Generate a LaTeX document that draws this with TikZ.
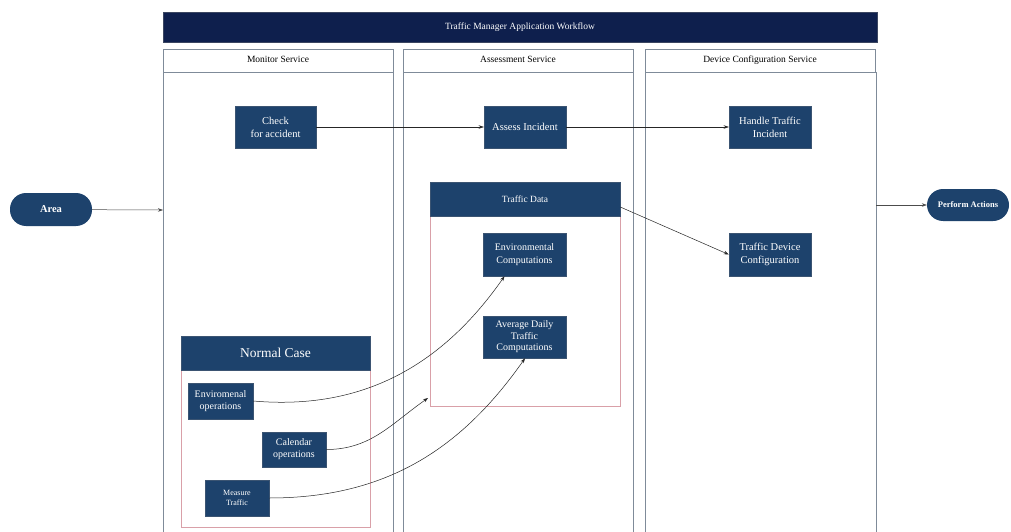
\documentclass[tikz,border=0pt]{standalone}
\usepackage{fontspec}
\setmainfont{Liberation Serif}
\usetikzlibrary{arrows.meta}
\definecolor{titlenavy}{HTML}{0E1F4D}
\definecolor{boxnavy}{HTML}{1D426C}
\definecolor{laneline}{HTML}{7F8B99}
\definecolor{pinkline}{HTML}{D9A0A8}
\tikzset{
  box/.style={rectangle, fill=boxnavy, draw=boxnavy!70!gray, line width=0.5pt,
    text=white, align=center, inner sep=1pt, font=\fontsize{10.5}{13}\selectfont},
  pill/.style={rectangle, rounded corners=16pt, fill=boxnavy, text=white,
    align=center, inner sep=1pt, font=\bfseries\fontsize{8.5}{10}\selectfont},
  lanehead/.style={rectangle, fill=white, draw=laneline, line width=0.8pt,
    minimum width=230pt, minimum height=23pt, text height=7pt, text depth=2pt,
    font=\fontsize{9.5}{11}\selectfont},
  lane/.style={draw=laneline, line width=0.9pt},
  holder/.style={draw=pinkline, line width=0.6pt},
  link/.style={draw=black!85, line width=0.5pt, -{Stealth[length=5pt,width=3.5pt]}},
}
\begin{document}
\begin{tikzpicture}[x=1pt,y=-1pt]
\useasboundingbox (0,0) rectangle (1011,532);
\fill[white] (0,0) rectangle (1011,532);

% title bar
\node[rectangle, fill=titlenavy, draw=titlenavy!60!gray, line width=0.6pt,
  minimum width=714pt, minimum height=30pt, text=white,
  font=\fontsize{9.5}{11}\selectfont] (title) at (520,27) {Traffic Manager Application Workflow};

% swim lanes
\draw[lane] (163,72) -- (163,532);
\draw[lane] (393,72) -- (393,532);
\draw[lane] (403,72) -- (403,532);
\draw[lane] (633,72) -- (633,532);
\draw[lane] (645,72) -- (645,532);
\draw[lane] (876,72) -- (876,532);
\node[lanehead] (mon) at (278,60.5) {Monitor Service};
\node[lanehead] (ass) at (518,60.5) {Assessment Service};
\node[lanehead] (dev) at (760,60.5) {Device Configuration Service};

% group containers
\draw[holder] (430,216) rectangle (620,406);
\draw[holder] (181,370) rectangle (370,527);
\node[box, minimum width=190pt, minimum height=34pt, font=\fontsize{9.5}{11}\selectfont] (tdhead) at (525,199) {Traffic Data};
\node[box, minimum width=189pt, minimum height=34pt, font=\fontsize{13.5}{15}\selectfont] (nchead) at (275.5,353) {Normal Case};

% process boxes
\node[box, minimum width=81pt, minimum height=42pt] (check) at (275.5,127) {Check\\for accident};
\node[box, minimum width=82pt, minimum height=42pt] (assess) at (525,127) {Assess Incident};
\node[box, minimum width=82pt, minimum height=42pt] (handle) at (770,127) {Handle Traffic\\Incident};
\node[box, minimum width=83pt, minimum height=43pt, font=\fontsize{10}{13}\selectfont] (envc) at (524.5,254.5) {Environmental\\Computations};
\node[box, minimum width=83pt, minimum height=42pt, font=\fontsize{10}{11.5}\selectfont] (avg) at (524.5,337) {Average Daily\\Traffic\\Computations};
\node[box, minimum width=82pt, minimum height=43pt] (tdc) at (770,254.5) {Traffic Device\\Configuration};
\node[box, minimum width=65pt, minimum height=36pt, font=\fontsize{10}{12}\selectfont] (envop) at (220.5,401) {Enviromenal\\operations};
\node[box, minimum width=64pt, minimum height=35pt, font=\fontsize{10}{12}\selectfont] (calop) at (294,449.5) {Calendar\\operations};
\node[box, minimum width=64pt, minimum height=36pt, font=\fontsize{8}{10}\selectfont] (meas) at (237,498) {Measure\\Traffic};

% terminals
\node[pill, minimum width=82pt, minimum height=33pt, font=\bfseries\fontsize{10.5}{12}\selectfont] (area) at (51,209.5) {Area};
\node[pill, minimum width=82pt, minimum height=32pt] (perform) at (968,205) {Perform Actions};

% connector end points on lane and container edges
\coordinate (monin) at (163,210);
\coordinate (devout) at (876,205);
\coordinate (tdedge) at (428,398);

% connectors
\draw[link, draw=black!70] (area) -- (monin);
\draw[link, draw=black!70] (devout) -- (perform);
\draw[link] (check) -- (assess);
\draw[link] (assess) -- (handle);
\draw[link] ([yshift=-8pt]tdhead.east) -- (tdc.west);
\draw[link] (envop.east) to[out=-5,in=235] ([xshift=-20pt]envc.south);
\draw[link] (calop.east) to[out=0,in=215] (tdedge);
\draw[link] (meas.east) to[out=0,in=235] ([xshift=0.5pt]avg.south);
\end{tikzpicture}
\end{document}
